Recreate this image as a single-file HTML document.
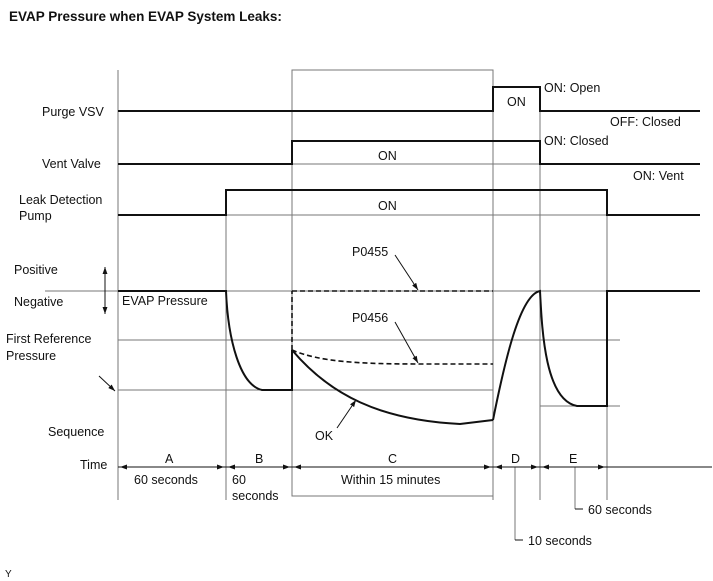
<!DOCTYPE html>
<html><head><meta charset="utf-8"><style>
html,body{margin:0;padding:0;background:#fff;}
svg{display:block;}
text{font-family:"Liberation Sans",Arial,sans-serif;font-size:12.5px;fill:#111;}
</style></head><body>
<svg width="713" height="581" viewBox="0 0 713 581" xmlns="http://www.w3.org/2000/svg">
<defs>
<marker id="ah" viewBox="0 0 10 10" refX="10" refY="5" markerWidth="7" markerHeight="7" orient="auto-start-reverse"><path d="M0,1.5 L10,5 L0,8.5 z" fill="#111"/></marker>
</defs>
<text x="9" y="21" style="font-weight:bold;font-size:13.5px">EVAP Pressure when EVAP System Leaks:</text>

<g stroke="#777" stroke-width="1" fill="none">
<line x1="118" y1="70" x2="118" y2="500"/>
<rect x="292" y="70" width="201" height="426"/>
<line x1="226" y1="190" x2="226" y2="500"/>
<line x1="540" y1="87" x2="540" y2="500"/>
<line x1="607" y1="190" x2="607" y2="500"/>
<line x1="493" y1="496" x2="493" y2="500"/>
<line x1="292" y1="164" x2="540" y2="164"/>
<line x1="226" y1="215" x2="607" y2="215"/>
<line x1="45" y1="291" x2="700" y2="291"/>
<line x1="118" y1="340" x2="620" y2="340"/>
<line x1="118" y1="390" x2="493" y2="390"/>
<line x1="540" y1="406" x2="620" y2="406"/>
<line x1="515" y1="467" x2="515" y2="540"/>
<line x1="575" y1="467" x2="575" y2="509"/>
</g>
<line x1="515" y1="540" x2="523" y2="540" stroke="#111"/>
<line x1="575" y1="509" x2="583" y2="509" stroke="#111"/>

<g stroke="#111" stroke-width="2" fill="none">
<polyline points="118,111 493,111 493,87 540,87 540,111 700,111"/>
<polyline points="118,164 292,164 292,141 540,141 540,164 700,164"/>
<polyline points="118,215 226,215 226,190 607,190 607,215 700,215"/>
<path d="M118,291 L226,291 C228,340 240,385 262,390 L292,390 L292,350"/>
<path d="M292,350 C330,395 380,420 460,424 L493,420"/>
<path d="M493,420 C505,360 520,295 540,291 C542,330 545,400 577,406 L607,406 L607,291 L700,291"/>
</g>
<g stroke="#111" stroke-width="1.6" fill="none" stroke-dasharray="5,3">
<line x1="292" y1="350" x2="292" y2="291"/>
<line x1="292" y1="291" x2="493" y2="291"/>
<path d="M292,350 C320,362 360,364 420,364 L493,364"/>
</g>

<g stroke="#111" stroke-width="1" fill="none">
<line x1="395" y1="255" x2="418" y2="290" marker-end="url(#ah)"/>
<line x1="395" y1="322" x2="418" y2="363" marker-end="url(#ah)"/>
<line x1="337" y1="428" x2="356" y2="400" marker-end="url(#ah)"/>
<line x1="99" y1="376" x2="115" y2="391" marker-end="url(#ah)"/>
<line x1="105" y1="267" x2="105" y2="314" marker-start="url(#ah)" marker-end="url(#ah)"/>
<line x1="118" y1="467" x2="712" y2="467"/>
<line x1="120" y1="467" x2="224" y2="467" marker-start="url(#ah)" marker-end="url(#ah)"/>
<line x1="228" y1="467" x2="290" y2="467" marker-start="url(#ah)" marker-end="url(#ah)"/>
<line x1="294" y1="467" x2="491" y2="467" marker-start="url(#ah)" marker-end="url(#ah)"/>
<line x1="495" y1="467" x2="538" y2="467" marker-start="url(#ah)" marker-end="url(#ah)"/>
<line x1="542" y1="467" x2="605" y2="467" marker-start="url(#ah)" marker-end="url(#ah)"/>
</g>

<text x="42" y="116">Purge VSV</text>
<text x="42" y="168">Vent Valve</text>
<text x="19" y="204">Leak Detection</text>
<text x="19" y="220">Pump</text>
<text x="14" y="274">Positive</text>
<text x="14" y="306">Negative</text>
<text x="122" y="305">EVAP Pressure</text>
<text x="6" y="343">First Reference</text>
<text x="6" y="360">Pressure</text>
<text x="48" y="436">Sequence</text>
<text x="80" y="469">Time</text>
<text x="507" y="106">ON</text>
<text x="544" y="92">ON: Open</text>
<text x="610" y="126">OFF: Closed</text>
<text x="544" y="145">ON: Closed</text>
<text x="633" y="180">ON: Vent</text>
<text x="378" y="160">ON</text>
<text x="378" y="210">ON</text>
<text x="352" y="256">P0455</text>
<text x="352" y="322">P0456</text>
<text x="315" y="440">OK</text>
<text x="165" y="463">A</text>
<text x="255" y="463">B</text>
<text x="388" y="463">C</text>
<text x="511" y="463">D</text>
<text x="569" y="463">E</text>
<text x="134" y="484">60 seconds</text>
<text x="232" y="484">60</text>
<text x="232" y="500">seconds</text>
<text x="341" y="484">Within 15 minutes</text>
<text x="588" y="514">60 seconds</text>
<text x="528" y="545">10 seconds</text>
<text x="5" y="577" style="font-size:10px">Y</text>
</svg>
</body></html>
